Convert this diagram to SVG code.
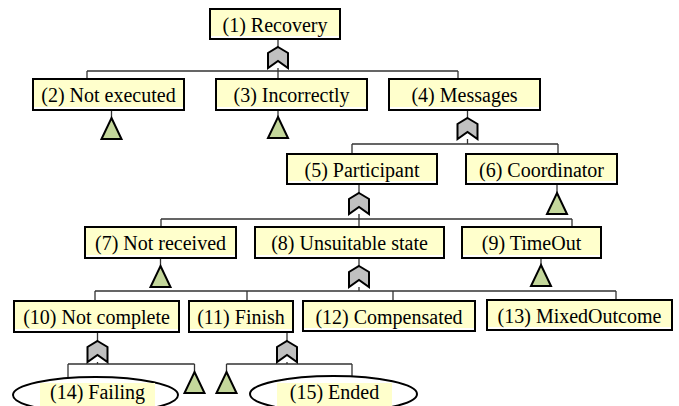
<svg xmlns="http://www.w3.org/2000/svg" width="679" height="406" viewBox="0 0 679 406">
<defs>
<style>
.box{fill:#ffffff;stroke:#000;stroke-width:2}
.hl{fill:#ffffcc;stroke:none}
.c{stroke:#333;stroke-width:1.3;fill:none}
.gate{fill:#c0c0c0;stroke:#000;stroke-width:2;stroke-linejoin:miter}
.tri{fill:#c4d79b;stroke:#000;stroke-width:2;stroke-linejoin:miter}
.ell{fill:#ffffff;stroke:#000;stroke-width:2}
</style>
<path id="g" d="M10,0 L20,6 L20,21 L10,14 L0,21 L0,6 Z"/>
<path id="tr" d="M10,0 L20,21 L0,21 Z"/>
</defs>
<rect width="679" height="406" fill="#ffffff"/>

<g id="connectors">
<path class="c" d="M278,39V47 M278,68V79 M87,71H458 M87,71V79 M458,71V79"/>
<path class="c" d="M111.5,110V118 M278,110V117"/>
<path class="c" d="M467.5,110V118 M467.5,139V144 M352,144H558 M352,144V154 M558,144V154"/>
<path class="c" d="M359,184V193 M359,214V227 M161,219H572 M161,219V227 M572,219V227"/>
<path class="c" d="M557,184V193 M160.5,258V266 M541,258V265"/>
<path class="c" d="M359,258V266 M359,287V291 M95,291H616 M95,291V301 M247,291V301 M393,291V301 M616,291V301"/>
<path class="c" d="M97.5,332V341 M97.5,362V364 M68,364H194.5 M68,364V377 M194.5,364V372"/>
<path class="c" d="M287,332V341 M287,362V364 M226.5,364H352 M226.5,364V372 M352,364V376"/>
</g>

<g id="gates">
<use href="#g" class="gate" x="268" y="47"/>
<use href="#g" class="gate" x="457.5" y="118"/>
<use href="#g" class="gate" x="349" y="193"/>
<use href="#g" class="gate" x="349" y="266"/>
<use href="#g" class="gate" x="87.5" y="341"/>
<use href="#g" class="gate" x="277" y="341"/>
</g>

<g id="transfers">
<use href="#tr" class="tri" x="101.5" y="118"/>
<use href="#tr" class="tri" x="268" y="117"/>
<use href="#tr" class="tri" x="547" y="193"/>
<use href="#tr" class="tri" x="150.5" y="266"/>
<use href="#tr" class="tri" x="531" y="265"/>
<use href="#tr" class="tri" x="184.5" y="372"/>
<use href="#tr" class="tri" x="216.5" y="372"/>
</g>

<g id="n1"><rect class="box" x="210" y="9" width="130" height="30"/><rect class="hl" x="211" y="10" width="128" height="26"/><text font-family="Liberation Serif" font-size="20" text-anchor="middle" x="275" y="32">(1) Recovery</text></g>
<g id="n2"><rect class="box" x="33" y="79" width="151" height="31"/><rect class="hl" x="34" y="80" width="149" height="27"/><text font-family="Liberation Serif" font-size="20" text-anchor="middle" x="108.5" y="102">(2) Not executed</text></g>
<g id="n3"><rect class="box" x="216" y="79" width="151" height="31"/><rect class="hl" x="217" y="80" width="149" height="27"/><text font-family="Liberation Serif" font-size="20" text-anchor="middle" x="291.5" y="102">(3) Incorrectly</text></g>
<g id="n4"><rect class="box" x="389" y="79" width="151" height="31"/><rect class="hl" x="390" y="80" width="149" height="27"/><text font-family="Liberation Serif" font-size="20" text-anchor="middle" x="464.5" y="102">(4) Messages</text></g>
<g id="n5"><rect class="box" x="287" y="154" width="150" height="30"/><rect class="hl" x="288" y="155" width="148" height="26"/><text font-family="Liberation Serif" font-size="20" text-anchor="middle" x="362" y="177">(5) Participant</text></g>
<g id="n6"><rect class="box" x="466" y="154" width="151" height="30"/><rect class="hl" x="467" y="155" width="149" height="26"/><text font-family="Liberation Serif" font-size="20" text-anchor="middle" x="541.5" y="177">(6) Coordinator</text></g>
<g id="n7"><rect class="box" x="85" y="227" width="151" height="31"/><rect class="hl" x="86" y="228" width="149" height="27"/><text font-family="Liberation Serif" font-size="20" text-anchor="middle" x="160.5" y="250">(7) Not received</text></g>
<g id="n8"><rect class="box" x="255" y="227" width="189" height="31"/><rect class="hl" x="256" y="228" width="187" height="27"/><text font-family="Liberation Serif" font-size="20" text-anchor="middle" x="349.5" y="250">(8) Unsuitable state</text></g>
<g id="n9"><rect class="box" x="462" y="227" width="139" height="31"/><rect class="hl" x="463" y="228" width="137" height="27"/><text font-family="Liberation Serif" font-size="20" text-anchor="middle" x="531.5" y="250">(9) TimeOut</text></g>
<g id="n10"><rect class="box" x="14" y="301" width="165" height="31"/><rect class="hl" x="15" y="302" width="163" height="27"/><text font-family="Liberation Serif" font-size="20" text-anchor="middle" x="96.5" y="324">(10) Not complete</text></g>
<g id="n11"><rect class="box" x="189" y="301" width="104" height="31"/><rect class="hl" x="190" y="302" width="102" height="27"/><text font-family="Liberation Serif" font-size="20" text-anchor="middle" x="241" y="324">(11) Finish</text></g>
<g id="n12"><rect class="box" x="303" y="301" width="172" height="30"/><rect class="hl" x="304" y="302" width="170" height="26"/><text font-family="Liberation Serif" font-size="20" text-anchor="middle" x="389" y="323.5">(12) Compensated</text></g>
<g id="n13"><rect class="box" x="487" y="300" width="185" height="30"/><rect class="hl" x="488" y="301" width="183" height="26"/><text font-family="Liberation Serif" font-size="20" text-anchor="middle" x="579.5" y="322.5">(13) MixedOutcome</text></g>
<g id="n14"><ellipse class="ell" cx="95.5" cy="395" rx="82.5" ry="18"/><rect class="hl" x="40" y="383" width="115" height="23"/><text font-family="Liberation Serif" font-size="20" text-anchor="middle" x="97.5" y="398.5">(14) Failing</text></g>
<g id="n15"><ellipse class="ell" cx="333.5" cy="394" rx="83.5" ry="18"/><rect class="hl" x="277" y="383" width="115" height="23"/><text font-family="Liberation Serif" font-size="20" text-anchor="middle" x="334.5" y="398.5">(15) Ended</text></g>
</svg>
